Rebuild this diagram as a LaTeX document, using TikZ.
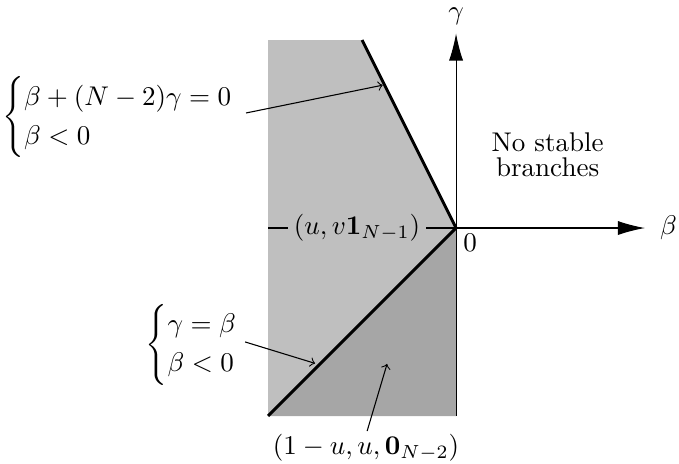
\documentclass[tikz,border=0pt]{standalone}
\usepackage{amsmath,amssymb}
\usepackage{xcolor}
\usepackage{tikz}
\usetikzlibrary{arrows.meta}

\begin{document}
\begin{tikzpicture}[
  x=2.443cm, y=2.443cm,
  lightreg/.style={fill=black!25},
  darkreg/.style ={fill=black!35},
  boundary/.style={line width=1.1pt},
  axis/.style={-{Latex[length=10pt,width=5.2pt]}},
  callout/.style={->},
  >=to]
\useasboundingbox (-2.426,-1.255) rectangle (1.186,1.213);
% corners of the regions
\coordinate (O) at (0,0);
\coordinate (tl) at (-1,1);
\coordinate (tb) at (-0.5,1);
\coordinate (bl) at (-1,-1);
\coordinate (br) at (0,-1);
\coordinate (xl) at (-1,0);
\coordinate (xr) at (1.005,0);
\coordinate (yt) at (0,1.035);
% shaded regions
\fill[lightreg] (tl) -- (tb) -- (O) -- (bl) -- cycle;
\fill[darkreg] (bl) -- (O) -- (br) -- cycle;
% axes
\draw[axis] (xl) -- (xr);
\draw[axis] (br) -- (yt);
\node (beta) at (1.13,0) {$\beta$};
\node (gamma) at (0,1.128) {$\gamma$};
\node (zero) at (0.075,-0.08) {$0$};
% boundaries
\draw[boundary] (tb) -- (O) -- (bl);
% labels
\node[lightreg, inner sep=2pt] (v1) at (-0.527,0) {$(u,v\mathbf{1}_{N-1})$};
\node[align=center] (nsb) at (0.487,0.39) {No stable\\[-2.5pt]branches};
\node (eq1) at (-1.724,0.59) {$\begin{cases}\beta+(N-2)\gamma=0\\ \beta<0\end{cases}$};
\node (eq2) at (-1.33,-0.62) {$\begin{cases}\gamma=\beta\\ \beta<0\end{cases}$};
\node (v0) at (-0.479,-1.17) {$(1-u,u,\mathbf{0}_{N-2})$};
\coordinate (p1) at (-0.39,0.76);
\coordinate (p2) at (-0.75,-0.72);
\coordinate (p3) at (-0.367,-0.723);
\coordinate (s3) at (-0.473,-1.08);
\draw[callout] (-1.117,0.612) -- (p1);
\draw[callout] (-1.122,-0.606) -- (p2);
\draw[callout] (s3) -- (p3);
\end{tikzpicture}
\end{document}
